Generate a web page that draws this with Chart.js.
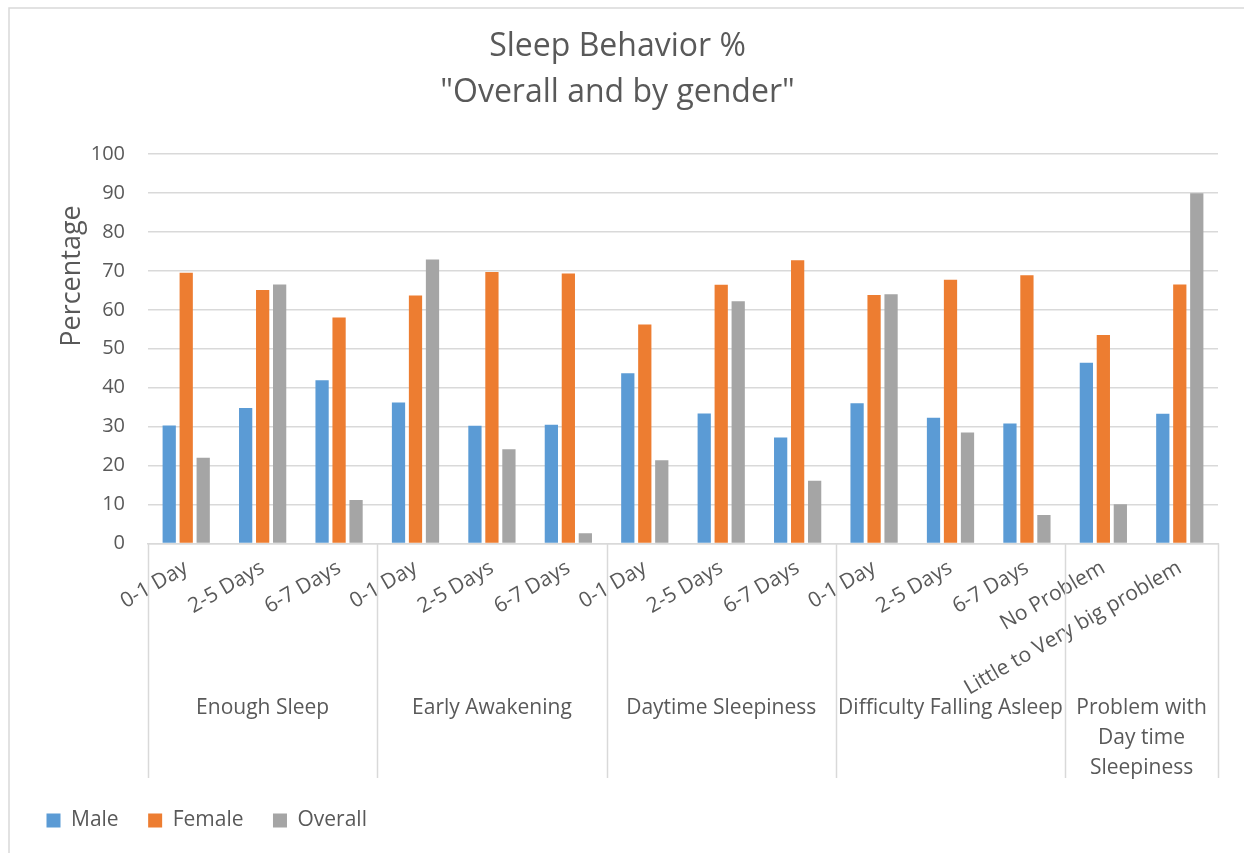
<!DOCTYPE html>
<html>
<head>
<meta charset="utf-8">
<script src="https://cdn.jsdelivr.net/npm/chart.js@4/dist/chart.umd.min.js"></script>
<style>
  html, body { margin: 0; padding: 0; background: #ffffff; }
  #wrap { width: 1244px; height: 853px; position: relative; }
</style>
</head>
<body>
<div id="wrap"><canvas id="c" width="1244" height="853"></canvas></div>
<script>
// Answer options for each question (x-axis inner level)
const categories = [
  '0-1 Day', '2-5 Days', '6-7 Days',
  '0-1 Day', '2-5 Days', '6-7 Days',
  '0-1 Day', '2-5 Days', '6-7 Days',
  '0-1 Day', '2-5 Days', '6-7 Days',
  'No Problem', 'Little to Very big problem'
];

// Questions (x-axis outer level) and how many answers each spans
const groupNames = [
  ['Enough Sleep'],
  ['Early Awakening'],
  ['Daytime Sleepiness'],
  ['Difficulty Falling Asleep'],
  ['Problem with', 'Day time', 'Sleepiness']
];
const groupSizes = [3, 3, 3, 3, 2];

// Percentages per series
const maleValues    = [30.3, 34.8, 41.9, 36.2, 30.2, 30.5, 43.7, 33.4, 27.2, 36.0, 32.3, 30.8, 46.4, 33.3];
const femaleValues  = [69.5, 65.1, 58.0, 63.7, 69.7, 69.3, 56.2, 66.4, 72.7, 63.8, 67.7, 68.9, 53.5, 66.5];
const overallValues = [22.0, 66.5, 11.2, 72.9, 24.2, 2.6, 21.4, 62.2, 16.1, 64.0, 28.5, 7.3, 10.1, 89.9];

const yTicks = [0, 10, 20, 30, 40, 50, 60, 70, 80, 90, 100];

const FONT = "'Open Sans', 'DejaVu Sans', sans-serif";
const TEXT = '#595959';
const GRID = '#d9d9d9';

// Draws the frame, the rotated y-axis title, and the outer category level
const decorations = {
  id: 'decorations',
  beforeDraw(chart) {
    const ctx = chart.ctx;
    ctx.save();
    ctx.fillStyle = '#ffffff';
    ctx.fillRect(0, 0, chart.width, chart.height);
    ctx.strokeStyle = GRID;
    ctx.lineWidth = 1.5;
    ctx.beginPath();
    ctx.moveTo(9, chart.height);
    ctx.lineTo(9, 8);
    ctx.lineTo(chart.width, 8);
    ctx.stroke();
    ctx.restore();
  },
  afterDraw(chart) {
    const ctx = chart.ctx;
    const x = chart.scales.x;
    const area = chart.chartArea;
    const catW = x.width / categories.length;
    const sepBottom = 778;

    ctx.save();
    // y-axis title
    ctx.fillStyle = TEXT;
    ctx.font = '27px ' + FONT;
    ctx.textAlign = 'center';
    ctx.textBaseline = 'middle';
    ctx.translate(72, 276);
    ctx.rotate(-Math.PI / 2);
    ctx.fillText('Percentage', 0, 0);
    ctx.restore();

    ctx.save();
    ctx.strokeStyle = GRID;
    ctx.lineWidth = 1.5;
    ctx.fillStyle = TEXT;
    ctx.font = '21px ' + FONT;
    ctx.textAlign = 'center';
    ctx.textBaseline = 'middle';
    let start = 0;
    const edges = [x.getPixelForTick(0) - catW / 2];
    groupSizes.forEach((n, g) => {
      const left = x.getPixelForTick(start) - catW / 2;
      const right = x.getPixelForTick(start + n - 1) + catW / 2;
      edges.push(right);
      const cx = (left + right) / 2;
      groupNames[g].forEach((line, k) => {
        ctx.fillText(line, cx, 708 + k * 30);
      });
      start += n;
    });
    ctx.beginPath();
    edges.forEach(e => {
      ctx.moveTo(Math.round(e) + 0.5, area.bottom);
      ctx.lineTo(Math.round(e) + 0.5, sepBottom);
    });
    ctx.stroke();
    ctx.restore();
  }
};

new Chart(document.getElementById('c'), {
  type: 'bar',
  data: {
    labels: categories,
    datasets: [
      { label: 'Male', data: maleValues, backgroundColor: '#5b9bd5' },
      { label: 'Female', data: femaleValues, backgroundColor: '#ed7d31' },
      { label: 'Overall', data: overallValues, backgroundColor: '#a5a5a5' }
    ]
  },
  options: {
    responsive: false,
    animation: false,
    devicePixelRatio: 1,
    layout: { padding: { top: 0, left: 17, right: 26, bottom: 12 } },
    datasets: {
      bar: { categoryPercentage: 0.667, barPercentage: 0.78 }
    },
    plugins: {
      title: {
        display: true,
        text: ['Sleep Behavior %', '"Overall and by gender"'],
        color: TEXT,
        font: { family: FONT, size: 32, weight: 'normal', lineHeight: 1.4375 },
        padding: { top: 24, bottom: 38 }
      },
      legend: {
        display: true,
        position: 'bottom',
        align: 'start',
        labels: {
          color: TEXT,
          font: { family: FONT, size: 21 },
          boxWidth: 14,
          boxHeight: 14,
          padding: 29.5
        }
      },
      tooltip: { enabled: false }
    },
    scales: {
      x: {
        grid: { display: false },
        border: { display: true, color: GRID, width: 1.5 },
        ticks: {
          color: TEXT,
          font: { family: FONT, size: 21 },
          minRotation: 30,
          maxRotation: 30,
          autoSkip: false,
          padding: 4
        },
        afterFit(scale) { scale.height = 237; }
      },
      y: {
        min: 0,
        max: 100,
        afterBuildTicks(scale) { scale.ticks = yTicks.map(v => ({ value: v })); },
        grid: { color: GRID, lineWidth: 1.5, drawTicks: false },
        border: { display: false },
        ticks: {
          color: TEXT,
          font: { family: FONT, size: 20 },
          padding: 23
        },
        afterFit(scale) { scale.width = 131; }
      }
    }
  },
  plugins: [decorations]
});
</script>
</body>
</html>
